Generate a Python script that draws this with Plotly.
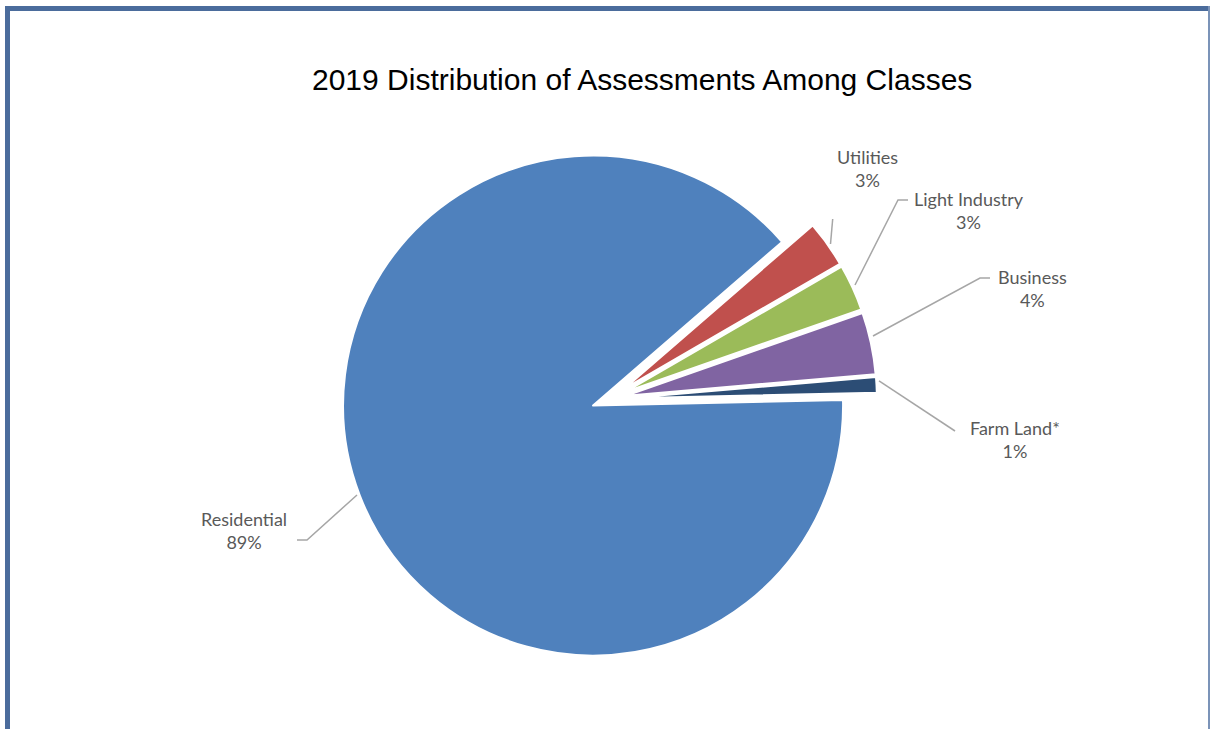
import plotly.graph_objects as go

# Assessment classes and their share of the 2019 total (%)
classes = ["Residential", "Utilities", "Light Industry", "Business", "Farm Land*"]
shares = [89, 3, 3, 4, 1]
slice_colors = ["#4f81bd", "#c0504d", "#9bbb59", "#8064a2", "#2c4d75"]

TITLE = "2019 Distribution of Assessments Among Classes"

W, H = 1210, 729


def fx(x):
    """pixel x -> paper x"""
    return x / W


def fy(y):
    """pixel y (from top) -> paper y"""
    return 1 - y / H


# Pie placement (pixels): centre of the unexploded pie, radius and explosion
CX, CY, R = 609.4, 399.3, 250
PULL = 0.07
HALF = R * (1 + PULL)

fig = go.Figure(
    go.Pie(
        labels=classes,
        values=shares,
        sort=False,
        direction="clockwise",
        rotation=88.7,
        pull=[PULL] * len(shares),
        marker=dict(colors=slice_colors, line=dict(color="white", width=2)),
        textinfo="none",
        hoverinfo="label+percent",
        showlegend=False,
        domain=dict(
            x=[fx(CX - HALF), fx(CX + HALF)],
            y=[fy(CY + HALF), fy(CY - HALF)],
        ),
    )
)

# Outside labels: (centre x, centre y) of each two-line label block, in pixels
label_pos = {
    "Residential": (244, 530),
    "Utilities": (867, 168),
    "Light Industry": (969, 210),
    "Business": (1032, 288),
    "Farm Land*": (1015, 440),
}

# Leader lines from each slice to its label, in pixels
leaders = {
    "Residential": [(357, 495), (307, 540), (297, 540)],
    "Utilities": [(832.7, 219), (830.5, 244)],
    "Light Industry": [(855, 285), (898, 200), (908, 200)],
    "Business": [(873, 336), (980, 278), (990, 278)],
    "Farm Land*": [(879, 381), (955, 431)],
}

label_font = dict(family="Lato, Calibri, sans-serif", size=18, color="#595959")

annotations = [
    dict(
        x=fx(642.5), y=fy(79), xref="paper", yref="paper",
        xanchor="center", yanchor="middle", showarrow=False,
        text=TITLE,
        font=dict(family="Liberation Sans, Arial, sans-serif", size=30, color="#000000"),
    )
]
for name, val in zip(classes, shares):
    x, y = label_pos[name]
    annotations.append(
        dict(
            x=fx(x), y=fy(y), xref="paper", yref="paper",
            xanchor="center", yanchor="middle", showarrow=False, align="center",
            text=f"{name}<br>{val}%", font=label_font,
        )
    )

shapes = []
for name, pts in leaders.items():
    path = "M " + " L ".join(f"{fx(x):.5f},{fy(y):.5f}" for x, y in pts)
    shapes.append(
        dict(type="path", path=path, xref="paper", yref="paper",
             line=dict(color="#a6a6a6", width=1.5))
    )

# Frame around the chart area
frame_color = "#4b6c9c"
shapes += [
    dict(type="rect", xref="paper", yref="paper", x0=fx(5), x1=fx(10), y0=fy(729), y1=fy(6),
         fillcolor=frame_color, line=dict(width=0), layer="above"),
    dict(type="rect", xref="paper", yref="paper", x0=fx(5), x1=fx(1210), y0=fy(11), y1=fy(6),
         fillcolor=frame_color, line=dict(width=0), layer="above"),
    dict(type="rect", xref="paper", yref="paper", x0=fx(1208), x1=fx(1210), y0=fy(729), y1=fy(6),
         fillcolor="#7b93b8", line=dict(width=0), layer="above"),
]

fig.update_layout(
    width=W,
    height=H,
    autosize=False,
    margin=dict(l=0, r=0, t=0, b=0),
    paper_bgcolor="white",
    plot_bgcolor="white",
    annotations=annotations,
    shapes=shapes,
)

fig.write_html("out.html", config={"displayModeBar": False})
